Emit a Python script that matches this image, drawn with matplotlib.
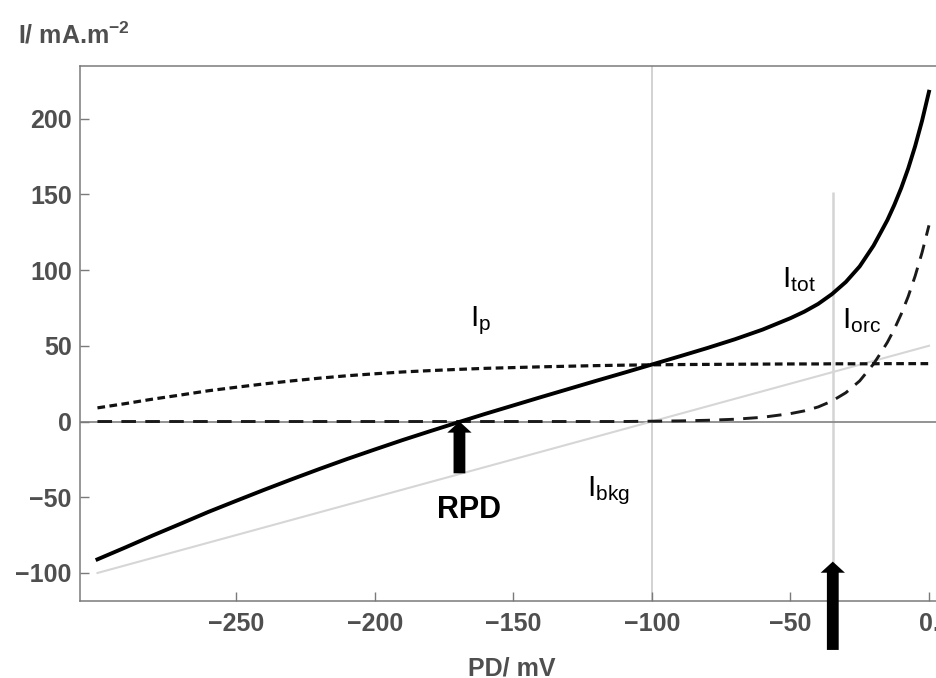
import matplotlib
matplotlib.use("Agg")
import matplotlib.pyplot as plt

plt.rcParams["font.family"] = ["Liberation Sans", "DejaVu Sans"]
plt.rcParams["mathtext.fontset"] = "custom"
plt.rcParams["mathtext.rm"] = "Liberation Sans"
plt.rcParams["mathtext.it"] = "Liberation Sans:italic"
plt.rcParams["mathtext.bf"] = "Liberation Sans:bold"

# Membrane potential difference (mV)
pd_mv = [-300, -290, -280, -270, -260, -250, -240, -230, -220, -210,
         -200, -190, -180, -170, -160, -150, -140, -130, -120, -110,
         -100, -90, -80, -70, -60, -50, -45, -40, -35, -30,
         -25, -20, -17.5, -15, -12.5, -10, -7.5, -5, -2.5, 0]

# Background (leak) current, mA.m^-2
i_bkg = [-100, -95, -90, -85, -80, -75, -70, -65, -60, -55,
         -50, -45, -40, -35, -30, -25, -20, -15, -10, -5,
         0, 5, 10, 15, 20, 25, 27.5, 30, 32.5, 35,
         37.5, 40, 41.25, 42.5, 43.75, 45, 46.25, 47.5, 48.75, 50]

# Pump current
i_p = [9.0, 11.8, 14.8, 17.5, 20.3, 22.6, 24.8, 26.8, 28.6, 30.2,
       31.5, 32.7, 33.6, 34.4, 35.1, 35.6, 36.1, 36.5, 36.9, 37.2,
       37.4, 37.6, 37.7, 37.8, 37.9, 38.0, 38.0, 38.0, 38.1, 38.1,
       38.1, 38.1, 38.2, 38.2, 38.2, 38.2, 38.2, 38.2, 38.2, 38.2]

# Outward rectifying channel current
i_orc = [0, 0, 0, 0, 0, 0, 0, 0, 0, 0,
         0, 0, 0, 0, 0, 0, 0, 0, 0, 0,
         0.2, 0.4, 0.8, 1.5, 2.8, 5.2, 7.0, 9.6, 13.5, 19.0,
         26.8, 38.0, 45.0, 52.3, 61.0, 71.0, 82.5, 96.0, 111.5, 129.5]

# Total current
i_tot = [-91.0, -83.2, -75.2, -67.5, -59.7, -52.4, -45.2, -38.2, -31.4, -24.8,
         -18.5, -12.3, -6.4, -0.6, 5.1, 10.6, 16.1, 21.5, 26.9, 32.2,
         37.6, 43.0, 48.5, 54.3, 60.7, 68.2, 72.5, 77.6, 84.1, 92.1,
         102.4, 116.1, 124.5, 133.0, 143.0, 154.2, 167.0, 181.7, 198.5, 217.7]

x_ticks = [-250, -200, -150, -100, -50, 0]
x_tick_labels = ["\u2212250", "\u2212200", "\u2212150", "\u2212100", "\u221250", "0."]
y_ticks = [-100, -50, 0, 50, 100, 150, 200]
y_tick_labels = ["\u2212100", "\u221250", "0", "50", "100", "150", "200"]

rpd_mv = -169.4      # resting potential difference (I_tot = 0)
marker_mv = -34.7    # second marked potential
marker_top = 151.5

W, H = 937, 678
fig = plt.figure(figsize=(W / 100, H / 100), dpi=100)
ax = fig.add_axes([80 / W, 77.3 / H, 865.6 / W, 534.7 / H])
ax.set_xlim(-306.3, 6.0)
ax.set_ylim(-118.3, 234.7)

frame_col = "#7a7a7a"
text_col = "#4f4f4f"
for side in ("left", "bottom", "top", "right"):
    ax.spines[side].set_color(frame_col)
    ax.spines[side].set_linewidth(1.1)

# grid-style reference lines
ax.axvline(-100, color="#cfcfcf", lw=1.3, zorder=1)
ax.plot([marker_mv, marker_mv], [-118.3, marker_top], color="#d4d4d4", lw=1.8, zorder=1,
        solid_capstyle="butt")
ax.axhline(0, color="#8a8a8a", lw=1.3, zorder=1.5)

ax.plot(pd_mv, i_bkg, color="#d6d6d6", lw=1.5, zorder=2)
ax.plot(pd_mv, i_orc, color="#1a1a1a", lw=2.1, dashes=(5.0, 3.2), zorder=3)
ax.plot(pd_mv, i_p, color="#111111", lw=2.3, dashes=(2.4, 1.4), zorder=3)
ax.plot(pd_mv, i_tot, color="black", lw=2.8, zorder=4, solid_joinstyle="round")

ax.set_xticks(x_ticks)
ax.set_xticklabels(x_tick_labels)
ax.set_yticks(y_ticks)
ax.set_yticklabels(y_tick_labels)
ax.tick_params(direction="in", length=6.5, width=1.0, color=frame_col,
               labelsize=18, labelcolor=text_col)
ax.tick_params(axis="x", pad=8)
ax.tick_params(axis="y", pad=6)
for lab in ax.get_xticklabels() + ax.get_yticklabels():
    lab.set_fontweight("bold")

fig.text(18 / W, 1 - 43.3 / H, r"I/ mA.m$^{\mathbf{-2}}$", fontsize=18,
         fontweight="bold", color=text_col, ha="left", va="baseline")
fig.text(512 / W, 1 - 675 / H, "PD/ mV", fontsize=18, fontweight="bold",
         color=text_col, ha="center", va="baseline")

# curve labels
lab_kw = dict(fontsize=21.5, color="black", ha="left", va="baseline", zorder=6)
ax.text(-165.6, 62.6, r"$\mathregular{I_p}$", **lab_kw)
ax.text(-123.5, -49.6, r"$\mathregular{I_{bkg}}$", **lab_kw)
ax.text(-53.2, 88.8, r"$\mathregular{I_{tot}}$", **lab_kw)
ax.text(-31.5, 61.5, r"$\mathregular{I_{orc}}$", **lab_kw)

arrow_kw = dict(arrowstyle="simple,head_length=0.8,head_width=1.75,tail_width=0.85",
                fc="black", ec="black", lw=0, shrinkA=0, shrinkB=0, mutation_scale=10)
ax.annotate("", xy=(rpd_mv, 0), xytext=(rpd_mv, -34.2), arrowprops=arrow_kw,
            annotation_clip=False, zorder=7)
ax.text(rpd_mv + 3.5, -63.6, "RPD", fontsize=22, fontweight="bold", color="black",
        ha="center", va="baseline")
ax.annotate("", xy=(marker_mv, -92.5), xytext=(marker_mv, -150.8), arrowprops=arrow_kw,
            annotation_clip=False, zorder=7)

fig.savefig("out.png", dpi=100, facecolor="white")
